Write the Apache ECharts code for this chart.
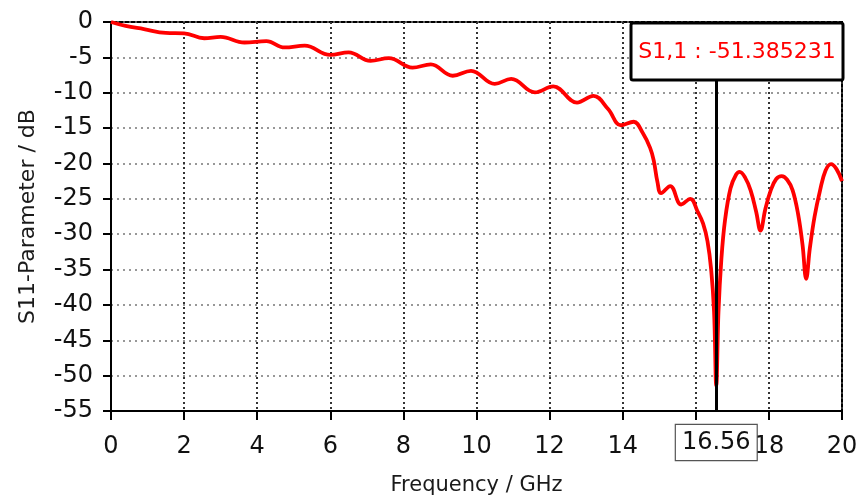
<!DOCTYPE html>
<html>
<head>
<meta charset="utf-8">
<script src="https://cdn.jsdelivr.net/npm/echarts@6/dist/echarts.min.js"></script>
<style>
  html, body { margin: 0; padding: 0; background: #fff; }
  #chart { width: 858px; height: 497px; }
</style>
</head>
<body>
<div id="chart"></div>
<script>
// Reflection coefficient S1,1 versus frequency
const freqGHz = [
  0, 0.4, 0.9, 1.5, 2.0, 2.55, 3.0, 3.65, 4.25, 4.75,
  5.3, 6.0, 6.5, 7.1, 7.6, 8.25, 8.75, 9.35, 9.85, 10.5,
  10.95, 11.6, 12.1, 12.75, 13.2, 13.6, 13.95, 14.3, 14.55, 14.75,
  14.85, 14.95, 15.05, 15.3, 15.6, 15.85, 16.05, 16.2, 16.32, 16.42,
  16.5, 16.56, 16.62, 16.7, 16.8, 16.95, 17.1, 17.2, 17.35, 17.5,
  17.65, 17.77, 17.9, 18.05, 18.2, 18.35, 18.5, 18.65, 18.8, 18.92,
  19.02, 19.12, 19.25, 19.4, 19.55, 19.7, 19.85, 20.0
];
const s11dB = [
  0, -0.55, -1.0, -1.55, -1.6, -2.3, -2.1, -2.9, -2.7, -3.6,
  -3.35, -4.65, -4.3, -5.5, -5.1, -6.45, -6.0, -7.6, -6.9, -8.75,
  -8.05, -9.95, -9.1, -11.4, -10.45, -12.3, -14.6, -14.1, -15.7, -17.8,
  -19.6, -22.6, -24.2, -23.2, -25.8, -25.0, -26.8, -28.5, -31.0, -35.0,
  -41.0, -51.385231, -41.0, -33.5, -28.0, -23.5, -21.6, -21.2, -22.0, -23.8,
  -26.8, -29.5, -26.5, -23.8, -22.2, -21.8, -22.3, -23.8, -27.2, -31.5,
  -36.3, -32.0, -27.5, -23.8, -21.0, -20.1, -20.8, -22.5
];

// Marker readout
const markerFreq = 16.56;
const markerValue = -51.385231;
const markerName = 'S1,1';

// Axis ranges
const xRange = [0, 20, 2];
const yRange = [-55, 0, 5];

const FONT = 'DejaVu Sans';

const chart = echarts.init(document.getElementById('chart'), null, { renderer: 'canvas' });

const points = freqGHz.map((f, i) => [f, s11dB[i]]);

chart.setOption({
  animation: false,
  backgroundColor: '#ffffff',
  textStyle: { fontFamily: FONT },
  grid: {
    left: 111, right: 16, top: 22, bottom: 86,
    containLabel: false,
    outerBoundsMode: 'none',
    show: true, borderColor: '#000', borderWidth: 2, backgroundColor: 'transparent'
  },
  xAxis: {
    type: 'value',
    min: xRange[0], max: xRange[1], interval: xRange[2],
    name: 'Frequency / GHz',
    nameLocation: 'middle',
    nameGap: 64,
    nameTextStyle: { fontFamily: FONT, fontSize: 21, color: '#1a1a1a' },
    axisLine: { onZero: false, lineStyle: { color: '#000', width: 2 } },
    axisTick: { show: true, length: 9, lineStyle: { color: '#000', width: 2 } },
    axisLabel: {
      fontFamily: FONT, fontSize: 24, color: '#111', margin: 24,
      formatter: v => (v === 16 ? '' : String(v))
    },
    splitLine: { show: true, lineStyle: { color: '#333', width: 2, type: [2, 3] } }
  },
  yAxis: {
    type: 'value',
    min: yRange[0], max: yRange[1], interval: yRange[2],
    name: 'S11-Parameter / dB',
    nameLocation: 'middle',
    nameGap: 72,
    nameTextStyle: { fontFamily: FONT, fontSize: 22, color: '#1a1a1a' },
    axisLine: { onZero: false, lineStyle: { color: '#000', width: 2 } },
    axisTick: { show: true, length: 8, lineStyle: { color: '#000', width: 2 } },
    axisLabel: { fontFamily: FONT, fontSize: 24, color: '#111', margin: 18 },
    splitLine: { show: true, lineStyle: { color: '#777', width: 1.5, type: [2, 4] } }
  },
  series: [{
    type: 'line',
    data: points,
    smooth: 0.4,
    symbol: 'none',
    lineStyle: { color: '#ff0000', width: 3.8 },
    z: 3,
    markLine: {
      silent: true,
      symbol: ['none', 'none'],
      lineStyle: { color: '#000', width: 3, type: 'solid' },
      label: {
        show: true,
        position: 'start',
        distance: 14,
        formatter: String(markerFreq),
        fontFamily: FONT, fontSize: 24, color: '#111',
        backgroundColor: '#fff',
        borderColor: '#555', borderWidth: 1.2,
        padding: [6, 6, 5, 6]
      },
      data: [[{ coord: [markerFreq, yRange[0]] }, { coord: [markerFreq, yRange[1]] }]]
    }
  }],
  graphic: [{
    type: 'rect',
    z: 100, zlevel: 1,
    shape: { x: 631, y: 23, width: 212, height: 57, r: 2 },
    style: { fill: '#fff', stroke: '#000', lineWidth: 3 }
  }, {
    type: 'text',
    z: 101, zlevel: 1,
    x: 737, y: 52,
    style: {
      text: markerName + ' : ' + markerValue.toFixed(6),
      font: '22px "' + FONT + '"',
      fill: '#ff0000',
      textAlign: 'center',
      textVerticalAlign: 'middle'
    }
  }]
});
</script>
</body>
</html>
